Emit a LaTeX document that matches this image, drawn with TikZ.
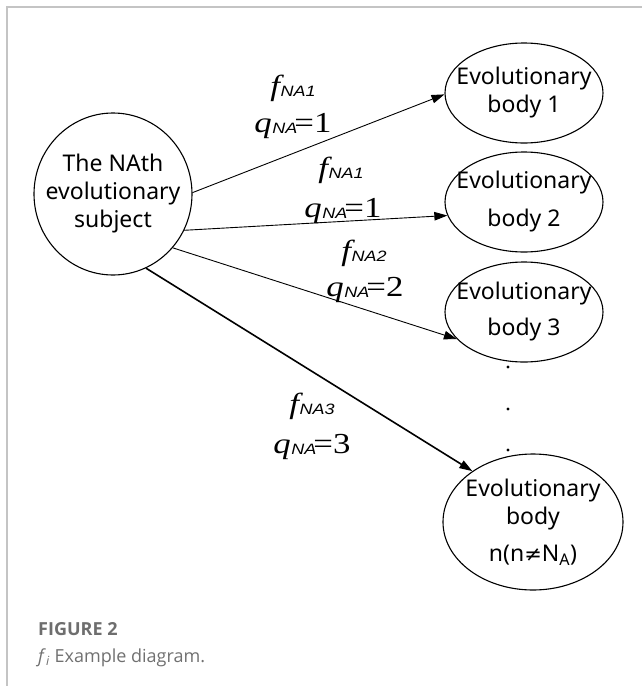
\documentclass[tikz,border=0pt]{standalone}
\usepackage{fontspec}
\usepackage{graphicx}
\usetikzlibrary{shapes.geometric,arrows.meta}
\setmainfont{Noto Sans}
\newfontfamily\lserif{Liberation Serif}
\newfontfamily\lsans{Liberation Sans}
\newfontfamily\capfont{Open Sans}
\newfontfamily\symfont{DejaVu Sans}
\definecolor{framegray}{HTML}{C4C4C4}
\definecolor{capgray}{HTML}{6E6E6E}
\definecolor{captext}{HTML}{707070}
\newcommand\subsans[1]{\raisebox{-1.5pt}{\lsans\itshape\fontsize{15}{15}\selectfont #1}}
\newcommand\flbl[1]{\scalebox{1.2}[1]{\lserif\itshape\fontsize{29}{29}\selectfont f\kern0.5pt\subsans{#1}}}
\newcommand\qlbl[1]{\scalebox{1.2}[1]{\lserif\itshape\fontsize{29}{29}\selectfont q\kern0.5pt\subsans{NA}\kern-2.5pt\upshape=#1}}
\begin{document}
\begin{tikzpicture}[x=1pt,y=-1pt,
  body/.style={draw, ellipse, line width=1.1pt, inner sep=0pt},
  bodytext/.style={align=center, inner sep=0pt, font=\fontsize{23}{28}\selectfont},
  conn/.style={line width=0.9pt, -{Triangle[length=13pt,width=8.5pt]}},
  lbl/.style={inner sep=0pt, anchor=base}]
\useasboundingbox (0,0) rectangle (642,686);
\draw[framegray, line width=1.5pt] (7,686) -- (7,7) -- (642,7);
% nodes
\node[body, minimum width=158pt, minimum height=162pt,
  label={[bodytext]center:The NAth\\evolutionary\\subject}] (main) at (113,194) {};
\node[body, minimum width=158pt, minimum height=100pt,
  label={[bodytext]center:Evolutionary\\body 1}] (b1) at (524,93) {};
\node[body, minimum width=158pt, minimum height=100pt,
  label={[bodytext]center:Evolutionary\\[10pt]body 2}] (b2) at (524,202) {};
\node[body, minimum width=158pt, minimum height=100pt,
  label={[bodytext]center:Evolutionary\\[8pt]body 3}] (b3) at (524,312) {};
\node[body, minimum width=180pt, minimum height=136pt,
  label={[bodytext]center:Evolutionary\\body\\[9pt]n(n{\symfont\fontsize{21}{21}\selectfont ≠}N\textsubscript{A})}] (bn) at (533,522) {};
% dots
\fill (508,367) circle (1.6pt);
\fill (508,409) circle (1.6pt);
\fill (508,450) circle (1.6pt);
% connectors
\draw[conn] (main.1) -- (b1.181);
\draw[conn] (main.-27) -- (b2.190);
\draw[conn] (main.-42) -- (b3.202);
\draw[conn, line width=1.6pt] (main.-66) -- (bn.140);
% labels
\node[lbl] (f1) at (293,95) {\flbl{NA1}};
\node[lbl] (q1) at (293,132) {\qlbl{1}};
\node[lbl] (f2) at (341,177) {\flbl{NA1}};
\node[lbl] (q2) at (343,217) {\qlbl{1}};
\node[lbl] (f3) at (364,260) {\flbl{NA2}};
\node[lbl] (q3) at (365,296) {\qlbl{2}};
\node[lbl] (f4) at (312,413) {\flbl{NA3}};
\node[lbl] (q4) at (312,453) {\qlbl{3}};
% caption
\node[anchor=base west, inner sep=0pt, text=capgray,
  font=\capfont\bfseries\fontsize{18}{18}\selectfont] (fig) at (38,635) {FIGURE 2};
\node[anchor=base west, inner sep=0pt, text=captext,
  font=\capfont\fontsize{18}{18}\selectfont] (cap) at (38,662) {\textit{f}\textsubscript{\textit{i}} Example diagram.};
\end{tikzpicture}
\end{document}
